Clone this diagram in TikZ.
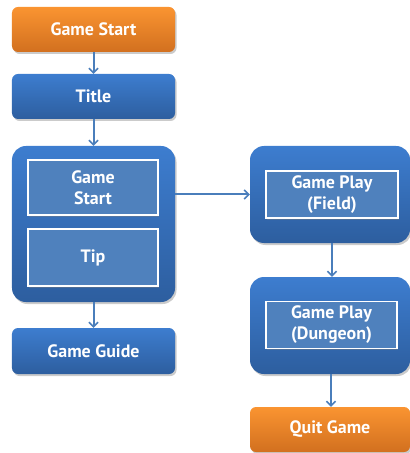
\documentclass[tikz,border=0pt]{standalone}
\usepackage{fontspec}
\setmainfont{PT Sans}
\usetikzlibrary{shadows,arrows.meta}
\definecolor{bluetop}{HTML}{3D7DCF}
\definecolor{bluebot}{HTML}{2D5E9F}
\definecolor{orangetop}{HTML}{FA9431}
\definecolor{orangebot}{HTML}{D2701F}
\definecolor{innerfill}{HTML}{4F81BD}
\definecolor{arrowc}{HTML}{4A7EBB}
\begin{document}
\begin{tikzpicture}[x=1bp,y=-1bp,
  lbl/.style={text=white,font=\bfseries\fontsize{18}{21}\selectfont,align=center,inner sep=0pt},
  shad/.style={drop shadow={shadow xshift=1.5bp,shadow yshift=-2bp,fill=black!45,opacity=0.45}},
  bluebox/.style={lbl,shad,rounded corners=6bp,top color=bluetop,bottom color=bluebot,minimum width=163bp,minimum height=45bp},
  orangebox/.style={lbl,shad,rounded corners=6bp,top color=orangetop,bottom color=orangebot,minimum width=163bp,minimum height=45bp},
  groupbox/.style={shad,rounded corners=14bp,top color=bluetop,bottom color=bluebot,inner sep=0pt},
  innerbox/.style={lbl,fill=innerfill,draw=white,line width=1.6bp,drop shadow={shadow xshift=1bp,shadow yshift=-1.5bp,fill=black!50,opacity=0.4}},
  conn/.style={draw=arrowc,line width=2bp,-{Straight Barb[length=4.5bp,width=9bp,line width=1.6bp]}}
]
\useasboundingbox (0,0) rectangle (409,453);
\node[orangebox] (gs) at (93.5,29.5) {Game Start};
\node[bluebox] (title) at (93.5,96.5) {Title};
\node[groupbox,minimum width=163bp,minimum height=156bp] (grp1) at (93.5,224) {};
\node[innerbox,minimum width=130bp,minimum height=55bp] (ins) at (93,187.5) {Game\\Start};
\node[innerbox,minimum width=130bp,minimum height=57bp] (tip) at (93,257.5) {Tip};
\node[bluebox,minimum height=46bp] (guide) at (93.5,351) {Game Guide};
\node[groupbox,minimum width=160bp,minimum height=97bp] (grp2) at (330,194.5) {};
\node[innerbox,minimum width=132bp,minimum height=47bp] (field) at (332,194.5) {Game Play\\(Field)};
\node[groupbox,minimum width=160bp,minimum height=97bp] (grp3) at (330,325.5) {};
\node[innerbox,minimum width=131bp,minimum height=47bp] (dung) at (331.5,325) {Game Play\\(Dungeon)};
\node[orangebox,minimum width=160bp] (quit) at (330,429.5) {Quit Game};
\draw[conn] (gs.south) -- (title.north);
\draw[conn] (title.south) -- (grp1.north);
\draw[conn] (grp1.south) -- (guide.north);
\draw[conn] (grp1.east |- grp2.west) -- (grp2.west);
\draw[conn] ([xshift=2bp]grp2.south) -- ([xshift=2bp]grp3.north);
\draw[conn] ([xshift=1bp]grp3.south) -- ([xshift=1bp]quit.north);
\end{tikzpicture}
\end{document}
